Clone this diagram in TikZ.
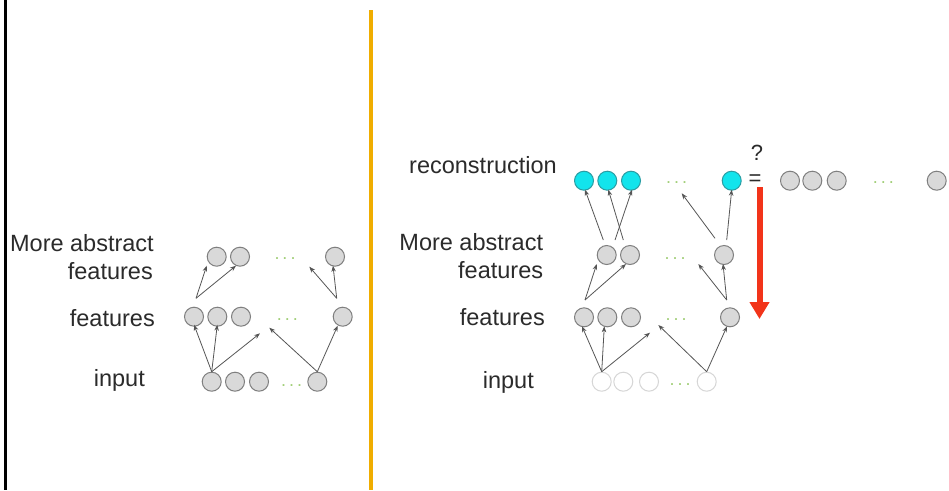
\documentclass[tikz,border=0pt]{standalone}
\usepackage{fontspec}
\setmainfont{Liberation Sans}
\usetikzlibrary{arrows.meta}
\definecolor{txt}{HTML}{2B2B2B}
\definecolor{unitfill}{HTML}{D9D9D9}
\definecolor{unitline}{HTML}{7F7F7F}
\definecolor{recfill}{HTML}{12E4EC}
\definecolor{recline}{HTML}{2A9DA3}
\definecolor{ghostline}{HTML}{D6D6D6}
\definecolor{dotgreen}{HTML}{A2CF78}
\definecolor{sep}{HTML}{F0AD00}
\definecolor{errred}{HTML}{F2341A}
\definecolor{wire}{HTML}{555555}
\tikzset{
  unit/.style={circle, minimum size=19, inner sep=0pt, draw=unitline, fill=unitfill, line width=1},
  recunit/.style={unit, draw=recline, fill=recfill},
  ghost/.style={unit, draw=ghostline, fill=white},
  etc/.style={text=dotgreen, font=\fontsize{18}{18}\selectfont, inner sep=0pt},
  lbl/.style={text=txt, font=\fontsize{23.5}{28}\selectfont, inner sep=0pt, align=right},
  link/.style={draw=wire, line width=0.8, -{Stealth[length=6pt, width=4.5pt]}},
}
\begin{document}
\begin{tikzpicture}[x=1pt, y=-1pt]
\useasboundingbox (0,0) rectangle (949,490);
\fill[white] (0,0) rectangle (949,490);

% panel dividers
\draw[black, line width=3] (5,0) -- (5,490);
\draw[sep, line width=3.5] (371,10) -- (371,490);

% ---------------- left panel ----------------
\node[lbl, anchor=base east] (lAbs1) at (154,251.7) {More abstract};
\node[lbl, anchor=base east] (lAbs2) at (153,279) {features};
\node[lbl, anchor=base east] (lFeat) at (155,326.7) {features};
\node[lbl, anchor=base east] (lIn) at (145,386.7) {input};

\node[unit] (la1) at (216.7,256.7) {};
\node[unit] (la2) at (240,256.7) {};
\node[unit] (la3) at (335,256.7) {};
\node[etc] (lad) at (285,259) {.\,.\,.};

\node[unit] (lf1) at (194,316.7) {};
\node[unit] (lf2) at (217.3,316.7) {};
\node[unit] (lf3) at (241,316.7) {};
\node[unit] (lf4) at (342.7,316.7) {};
\node[etc] (lfd) at (287.3,320) {.\,.\,.};

\node[unit] (li1) at (211.7,381.7) {};
\node[unit] (li2) at (235,381.7) {};
\node[unit] (li3) at (259,381.7) {};
\node[unit] (li4) at (317.3,381.7) {};
\node[etc] (lid) at (291.7,386) {.\,.\,.};

\coordinate (lf1tap) at (196,298.3);
\coordinate (lf4tap) at (336.7,298.3);
\coordinate (lfree1) at (260,333.3);
\coordinate (lfree2) at (269.3,327.7);
\coordinate (lfree3) at (309.3,266.7);

\draw[link] (li1.north) -- ([yshift=2]lf1.south);
\draw[link] (li1.north) -- ([yshift=2]lf2.south);
\draw[link] (li1.north) -- (lfree1);
\draw[link] (li4.north) -- (lfree2);
\draw[link] (li4.north) -- ([xshift=-5,yshift=1]lf4.south);
\draw[link] (lf1tap) -- ([xshift=-10,yshift=1]la1.south);
\draw[link] (lf1tap) -- ([xshift=-4,yshift=1]la2.south);
\draw[link] (lf4tap) -- (lfree3);
\draw[link] (lf4tap) -- ([xshift=-2,yshift=1]la3.south);

% ---------------- right panel ----------------
\node[lbl, anchor=base east] (rRec) at (557,173.3) {reconstruction};
\node[lbl, anchor=base east] (rAbs1) at (543.3,250.7) {More abstract};
\node[lbl, anchor=base east] (rAbs2) at (543.3,278.3) {features};
\node[lbl, anchor=base east] (rFeat) at (545,325) {features};
\node[lbl, anchor=base east] (rIn) at (534,388.3) {input};

\node[recunit] (rr1) at (584,180.7) {};
\node[recunit] (rr2) at (607.3,180.7) {};
\node[recunit] (rr3) at (631,180.7) {};
\node[recunit] (rr4) at (731.7,180.7) {};
\node[etc] (rrd) at (676.7,183) {.\,.\,.};

\node[unit] (ra1) at (606.7,255) {};
\node[unit] (ra2) at (630,255) {};
\node[unit] (ra3) at (724,255) {};
\node[etc] (rad) at (675,259) {.\,.\,.};

\node[unit] (rf1) at (584,317.3) {};
\node[unit] (rf2) at (607.3,317.3) {};
\node[unit] (rf3) at (631,317.3) {};
\node[unit] (rf4) at (730,317.3) {};
\node[etc] (rfd) at (676,320) {.\,.\,.};

\node[ghost] (ri1) at (601.7,381.7) {};
\node[ghost] (ri2) at (623.3,381.7) {};
\node[ghost] (ri3) at (649,381.7) {};
\node[ghost] (ri4) at (706.7,381.7) {};
\node[etc] (rid) at (680,385) {.\,.\,.};

\coordinate (ra1tapL) at (603.3,240);
\coordinate (ra1tapR) at (615,240);
\coordinate (ra2tap) at (623.3,240);
\coordinate (ra3tapL) at (715,238.3);
\coordinate (ra3tapR) at (726.7,240);
\coordinate (rf1tap) at (585,300);
\coordinate (rf4tap) at (726.7,300);
\coordinate (rfree1) at (650,332.7);
\coordinate (rfree2) at (658.3,325);
\coordinate (rfree3) at (698.3,264);
\coordinate (rfree4) at (681.7,193.3);

\draw[link] (ri1.north) -- ([xshift=-2,yshift=1]rf1.south);
\draw[link] (ri1.north) -- ([xshift=-3,yshift=1]rf2.south);
\draw[link] (ri1.north) -- (rfree1);
\draw[link] (ri4.north) -- (rfree2);
\draw[link] (ri4.north) -- ([xshift=-3,yshift=1]rf4.south);
\draw[link] (rf1tap) -- ([xshift=-10,yshift=1]ra1.south);
\draw[link] (rf1tap) -- ([xshift=-4,yshift=1]ra2.south);
\draw[link] (rf4tap) -- (rfree3);
\draw[link] (rf4tap) -- ([xshift=-1,yshift=1]ra3.south);
% the two middle links cross on their way up
\draw[link] (ra1tapL) -- ([xshift=1,yshift=1]rr1.south);
\draw[link] (ra1tapR) -- ([xshift=1,yshift=1]rr3.south);
\draw[link] (ra2tap) -- ([xshift=1,yshift=1]rr2.south);
\draw[link] (ra3tapL) -- (rfree4);
\draw[link] (ra3tapR) -- ([yshift=1]rr4.south);

% comparison with the original input
\node[text=txt, font=\fontsize{22}{22}\selectfont, inner sep=0pt] (qmark) at (757,153) {?};
\node[text=txt, font=\fontsize{22}{22}\selectfont, inner sep=0pt] (eqsign) at (755,180) {=};

\node[unit] (ro1) at (790,180.7) {};
\node[unit] (ro2) at (812.3,180.7) {};
\node[unit] (ro3) at (836.7,180.7) {};
\node[unit] (ro4) at (936.7,180.7) {};
\node[etc] (rod) at (883.3,183) {.\,.\,.};

% error signal flowing back down
\coordinate (errtop) at (759.5,187);
\coordinate (errbot) at (759.5,319);
\draw[errred, line width=6, -{Triangle[length=17pt, width=19pt]}] (errtop) -- (errbot);
\end{tikzpicture}
\end{document}
